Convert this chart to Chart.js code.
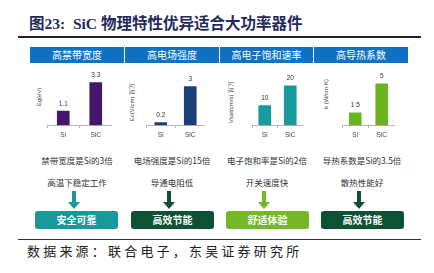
<!DOCTYPE html>
<html>
<head>
<meta charset="utf-8">
<script src="https://cdn.jsdelivr.net/npm/chart.js@4.4.1/dist/chart.umd.min.js"></script>
<style>
  html, body { margin: 0; padding: 0; background: #fff; }
  #wrap { position: relative; width: 434px; height: 273px; overflow: hidden; font-family: 'Noto Sans CJK SC', sans-serif; }
  .abs { position: absolute; }
  #title { left: 29px; top: 11px; font-family: 'Liberation Serif', 'Noto Sans CJK SC', serif; font-weight: bold; font-size: 15.5px; color: #1f2a5c; white-space: nowrap; }
  #topline { left: 18px; top: 36px; width: 403px; height: 2px; background: #222; }
  #botline { left: 18px; top: 239px; width: 403px; height: 1px; background: #333; }
  #source { left: 27px; top: 241px; font-size: 13px; letter-spacing: 3.2px; color: #222; white-space: nowrap; }
  .head { top: 47px; height: 16px; line-height: 16px; background: #0d72c4; color: #fff; font-size: 10px; text-align: center; }
  .ytitle { font-family: 'Liberation Sans', sans-serif; font-size: 6px; color: #444; white-space: nowrap; transform: translate(-50%, -50%) rotate(-90deg); }
  .row { width: 95px; text-align: center; font-size: 8.5px; color: #333; white-space: nowrap; }
  .box { top: 211px; height: 18px; line-height: 18px; border-radius: 3px; color: #fff; font-weight: bold; font-size: 10px; text-align: center; }
  canvas { position: absolute; }
</style>
</head>
<body>
<div id="wrap">
  <div id="title" class="abs">图23:&nbsp; SiC 物理特性优异适合大功率器件</div>
  <div id="topline" class="abs"></div>
  <div id="botline" class="abs"></div>
  <div id="source" class="abs">数据来源：联合电子，东吴证券研究所</div>
</div>
<script>
const categories = ['Si', 'SiC'];
const headers = ['高禁带宽度', '高电场强度', '高电子饱和速率', '高导热系数'];
const yTitles = ['Eg(eV)', 'Ec(V/cm) 百万', 'Vsat(cm/s) 百万', 'k (W/cm·K)'];
const bandGap = [1.1, 3.3];
const fieldStrength = [0.2, 3];
const saturationVelocity = [10, 20];
const thermalConductivity = [1.5, 5];
const seriesValues = [bandGap, fieldStrength, saturationVelocity, thermalConductivity];
const valueLabels = [['1.1', '3.3'], ['0.2', '3'], ['10', '20'], ['1.5', '5']];
const yMax = [4.75, 4.75, 31, 7.4];
const barColors = ['#44166c', '#1c3f7a', '#179a9c', '#6cb41f'];
const rowOne = ['禁带宽度是Si的3倍', '电场强度是Si的15倍', '电子饱和率是Si的2倍', '导热系数是Si的3.5倍'];
const rowTwo = ['高温下稳定工作', '导通电阻低', '开关速度快', '散热性能好'];
const boxes = ['安全可靠', '高效节能', '舒适体验', '高效节能'];
const boxColors = ['#17999b', '#0d5233', '#74b828', '#0d5233'];

const wrap = document.getElementById('wrap');

// panel geometry (pixels)
const headLeft = [30, 125, 220, 314];
const headWidth = [94, 94, 93, 94];
const axisLeft = [47, 146, 252, 342];
const axisWidth = [65, 59, 51, 53];
const yTitlePos = [[39, 97], [132, 102], [231, 102], [326, 94]];
const centers = [77, 172, 267, 362];
const boxLeft = [35, 131, 226, 321];

function addDiv(cls, text, style) {
    const d = document.createElement('div');
    d.className = 'abs ' + cls;
    d.textContent = text;
    Object.assign(d.style, style);
    wrap.appendChild(d);
    return d;
}

function addArrow(cx, color) {
    const svg = document.createElementNS('http://www.w3.org/2000/svg', 'svg');
    svg.setAttribute('width', '14');
    svg.setAttribute('height', '18');
    svg.style.position = 'absolute';
    svg.style.left = (cx - 7) + 'px';
    svg.style.top = '191px';
    const p = document.createElementNS('http://www.w3.org/2000/svg', 'path');
    p.setAttribute('d', 'M5 0 H9 V11 H13 L7 18 L1 11 H5 Z');
    p.setAttribute('fill', color);
    svg.appendChild(p);
    wrap.appendChild(svg);
}

const valuePlugin = {
    id: 'valueLabels',
    afterDatasetsDraw(chart) {
        const ctx = chart.ctx;
        const labels = chart.options.plugins.valueLabels.labels;
        ctx.save();
        ctx.font = "6.5px 'Liberation Sans', sans-serif";
        ctx.fillStyle = '#333';
        ctx.textAlign = 'center';
        ctx.textBaseline = 'bottom';
        chart.getDatasetMeta(0).data.forEach((bar, i) => {
            ctx.fillText(labels[i], bar.x, bar.y - 4);
        });
        ctx.restore();
    }
};

for (let i = 0; i < 4; i++) {
    addDiv('head', headers[i], { left: headLeft[i] + 'px', width: headWidth[i] + 'px' });
    addDiv('ytitle', yTitles[i], { left: yTitlePos[i][0] + 'px', top: yTitlePos[i][1] + 'px' });
    addDiv('row', rowOne[i], { left: (centers[i] - 47.5) + 'px', top: '154px' });
    addDiv('row', rowTwo[i], { left: (centers[i] - 47.5) + 'px', top: '176px' });
    addArrow(centers[i] - 3, boxColors[i]);
    addDiv('box', boxes[i], { left: boxLeft[i] + 'px', width: '83px', background: boxColors[i] });

    const canvas = document.createElement('canvas');
    canvas.width = axisWidth[i];
    canvas.height = 78;
    canvas.style.left = axisLeft[i] + 'px';
    canvas.style.top = '64px';
    wrap.appendChild(canvas);

    new Chart(canvas.getContext('2d'), {
        type: 'bar',
        data: {
            labels: categories,
            datasets: [{
                data: seriesValues[i],
                backgroundColor: barColors[i],
                barThickness: 12
            }]
        },
        options: {
            responsive: false,
            animation: false,
            layout: { padding: 0 },
            plugins: {
                legend: { display: false },
                tooltip: { enabled: false },
                valueLabels: { labels: valueLabels[i] }
            },
            scales: {
                y: { display: false, min: 0, max: yMax[i] },
                x: {
                    offset: true,
                    border: { display: true, color: '#b5b5b5', width: 1 },
                    grid: { display: true, offset: true, drawOnChartArea: false, drawTicks: true, tickLength: 3, color: '#b5b5b5' },
                    ticks: { color: '#444', font: { size: 6.5, family: "'Liberation Sans', sans-serif" }, padding: 3 }
                }
            }
        },
        plugins: [valuePlugin]
    });
}
</script>
</body>
</html>
